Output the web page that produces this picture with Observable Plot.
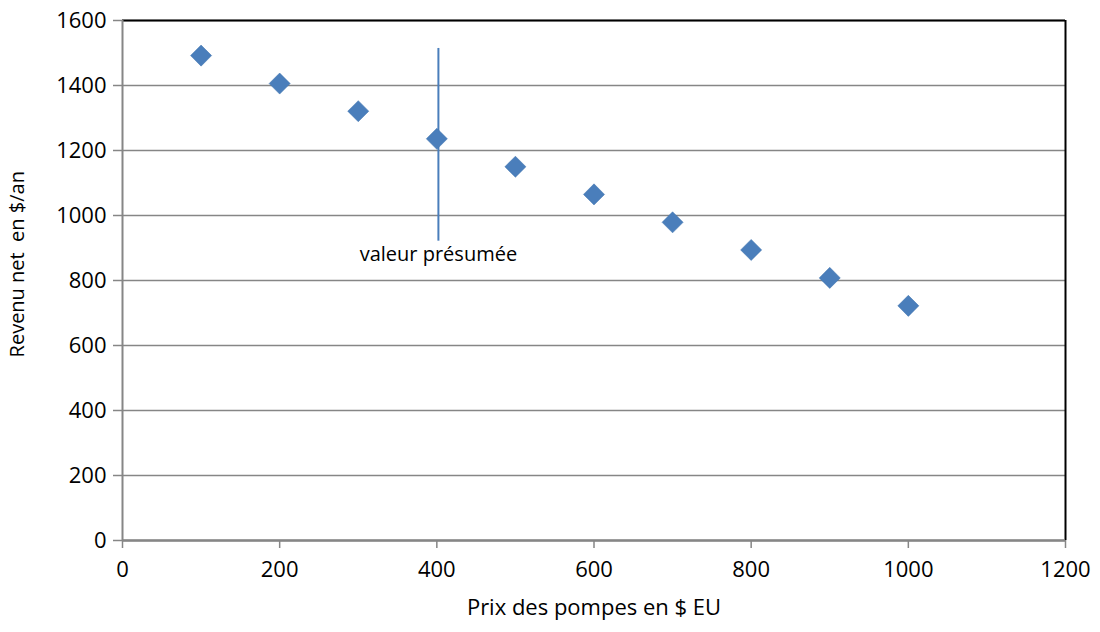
<!DOCTYPE html>
<html>
<head>
<meta charset="utf-8">
<script src="https://cdn.jsdelivr.net/npm/d3@7"></script>
<script src="https://cdn.jsdelivr.net/npm/@observablehq/plot@0.6"></script>
<style>
  html, body { margin: 0; padding: 0; background: #fff; }
  #chart svg { display: block; }
</style>
</head>
<body>
<div id="chart"></div>
<script>
// Data
const prices = [100, 200, 300, 400, 500, 600, 700, 800, 900, 1000];
const revenues = [1492, 1406, 1321, 1236, 1150, 1065, 979, 894, 808, 722];
const xTicks = [0, 200, 400, 600, 800, 1000, 1200];
const yTicks = [0, 200, 400, 600, 800, 1000, 1200, 1400, 1600];
const estimateX = [402];
const estimateY1 = [921];
const estimateY2 = [1514];
const estimateLabel = ["valeur présumée"];
const xLabel = "Prix des pompes en $ EU";
const yLabel = "Revenu net  en $/an";
const yLabelCenter = [850];

const points = prices.map((p, i) => ({price: p, revenue: revenues[i]}));
const estimate = estimateX.map((x, i) => ({x, y1: estimateY1[i], y2: estimateY2[i], label: estimateLabel[i]}));

const gray = "#868686";
const blue = "#4a7ebb";
const fmt = d => String(d);

const chart = Plot.plot({
  width: 1100,
  height: 632,
  marginLeft: 122,
  marginRight: 35,
  marginTop: 20,
  marginBottom: 92,
  style: {fontFamily: "'Open Sans', sans-serif", fontSize: "22px", color: "#000", background: "#fff"},
  x: {domain: [0, 1200], ticks: xTicks, label: null, tickFormat: fmt},
  y: {domain: [0, 1600], ticks: yTicks, label: null, tickFormat: fmt},
  marks: [
    Plot.gridY(yTicks, {stroke: gray, strokeOpacity: 1, strokeWidth: 1.5}),
    Plot.ruleY([1600], {stroke: "#000", strokeWidth: 2}),
    Plot.ruleX([1200], {stroke: "#000", strokeWidth: 2}),
    Plot.ruleX([0], {stroke: gray, strokeWidth: 2}),
    Plot.ruleY([0], {stroke: gray, strokeWidth: 2.5}),
    Plot.axisY(yTicks, {tickSize: 9, tickPadding: 7, stroke: gray, strokeWidth: 1.5, fontSize: 22, fill: "#000", tickFormat: fmt}),
    Plot.axisX(xTicks, {tickSize: 8, tickPadding: 13, stroke: gray, strokeWidth: 1.5, fontSize: 22, fill: "#000", tickFormat: fmt}),
    Plot.text([xLabel], {frameAnchor: "bottom", dy: 74, fontSize: 22, fill: "#000", textAnchor: "middle"}),
    Plot.text(yLabelCenter, {y: d => d, text: () => yLabel, frameAnchor: "left", dx: -105, rotate: -90, textAnchor: "middle", fontSize: 20, fill: "#000"}),
    Plot.ruleX(estimate, {x: "x", y1: "y1", y2: "y2", stroke: blue, strokeWidth: 2}),
    Plot.text(estimate, {x: "x", y: "y1", text: "label", dy: 13, fontSize: 20, fill: "#000"}),
    Plot.dot(points, {x: "price", y: "revenue", symbol: "diamond2", r: 9.5, fill: blue, stroke: "#3f72ad", strokeWidth: 0.5})
  ]
});
document.getElementById("chart").append(chart);
</script>
</body>
</html>
